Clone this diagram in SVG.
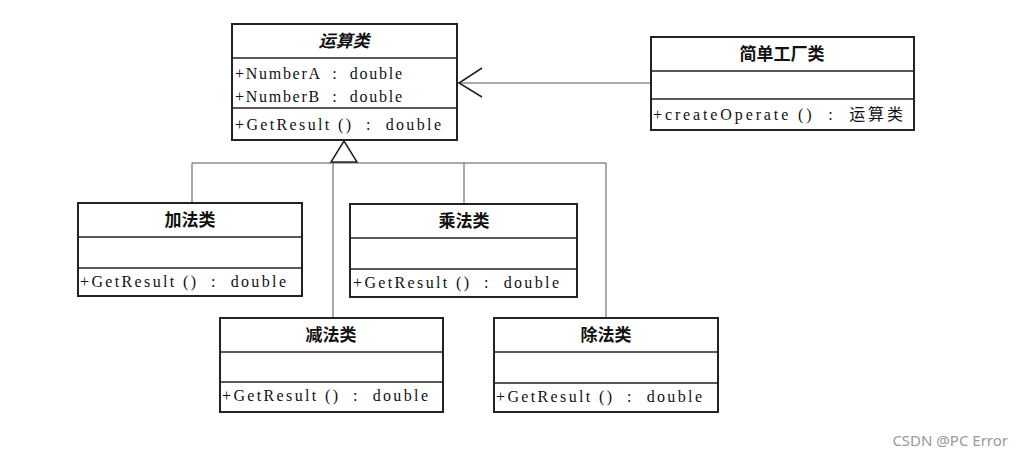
<svg xmlns="http://www.w3.org/2000/svg" width="1022" height="458" viewBox="0 0 1022 458">
<style>
.b{fill:#fff;stroke:#222;stroke-width:2}
.d{stroke:#222;stroke-width:1.5}
.c{fill:none;stroke:#555;stroke-width:1}
.t{font-family:"Noto Sans CJK SC",sans-serif;font-weight:bold;font-size:17px;fill:#111;text-anchor:middle}
.m{font-family:"Liberation Serif","Noto Sans CJK SC",serif;font-size:16px;fill:#111;white-space:pre}
</style>
<rect width="1022" height="458" fill="#fff"/>
<g id="connectors">
<polyline class="c" points="192,203 192,163 606,163 606,318"/>
<line class="c" x1="333" y1="163" x2="333" y2="318"/>
<line class="c" x1="464" y1="163" x2="464" y2="204"/>
<polygon points="344,141 331,162 357,162" fill="#fff" stroke="#222" stroke-width="1.5"/>
<line class="c" x1="651" y1="83" x2="458" y2="83"/>
<polyline points="482,68 459,83 482,97" fill="none" stroke="#222" stroke-width="1.5"/>
</g>
<g id="op">
<rect class="b" x="232" y="24" width="225" height="116"/>
<line class="d" x1="232" y1="58" x2="457" y2="58"/><line class="d" x1="232" y1="108" x2="457" y2="108"/>
<text class="t" x="344" y="47" font-style="italic">运算类</text>
<text class="m" x="235" y="79" textLength="167" lengthAdjust="spacing">+NumberA  :  double</text>
<text class="m" x="235" y="102" textLength="167" lengthAdjust="spacing">+NumberB  :  double</text>
<text class="m" x="235" y="130" textLength="206" lengthAdjust="spacing">+GetResult ()  :  double</text>
</g>
<g id="factory">
<rect class="b" x="651" y="37" width="263" height="93"/>
<line class="d" x1="651" y1="71" x2="914" y2="71"/><line class="d" x1="651" y1="99" x2="914" y2="99"/>
<text class="t" x="782" y="60">简单工厂类</text>
<text class="m" x="653" y="120" textLength="250" lengthAdjust="spacing">+createOperate ()  :  运算类</text>
</g>
<g id="add">
<rect class="b" x="78" y="203" width="224" height="93"/>
<line class="d" x1="78" y1="237" x2="302" y2="237"/><line class="d" x1="78" y1="268" x2="302" y2="268"/>
<text class="t" x="190" y="226">加法类</text>
<text class="m" x="80" y="287" textLength="206" lengthAdjust="spacing">+GetResult ()  :  double</text>
</g>
<g id="mul">
<rect class="b" x="350" y="204" width="227" height="93"/>
<line class="d" x1="350" y1="238" x2="577" y2="238"/><line class="d" x1="350" y1="269" x2="577" y2="269"/>
<text class="t" x="464" y="227">乘法类</text>
<text class="m" x="353" y="288" textLength="206" lengthAdjust="spacing">+GetResult ()  :  double</text>
</g>
<g id="sub">
<rect class="b" x="220" y="318" width="223" height="94"/>
<line class="d" x1="220" y1="352" x2="443" y2="352"/><line class="d" x1="220" y1="382" x2="443" y2="382"/>
<text class="t" x="331" y="341">减法类</text>
<text class="m" x="222" y="401" textLength="206" lengthAdjust="spacing">+GetResult ()  :  double</text>
</g>
<g id="div">
<rect class="b" x="494" y="318" width="224" height="94"/>
<line class="d" x1="494" y1="352" x2="718" y2="352"/><line class="d" x1="494" y1="383" x2="718" y2="383"/>
<text class="t" x="606" y="341">除法类</text>
<text class="m" x="496" y="402" textLength="206" lengthAdjust="spacing">+GetResult ()  :  double</text>
</g>
<text x="1008" y="446" text-anchor="end" font-family="Noto Sans,sans-serif" font-size="15" fill="#999">CSDN @PC Error</text>
</svg>
